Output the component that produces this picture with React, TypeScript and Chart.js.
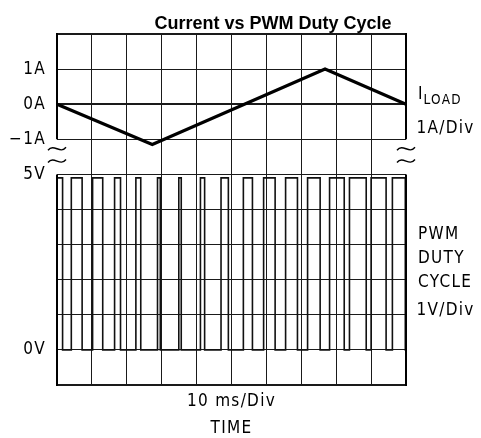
import React, { useEffect, useRef } from "react";
import { Chart, registerables } from "chart.js";

Chart.register(...registerables);

// ---------- data ----------
const CHART_TITLE = "Current vs PWM Duty Cycle";

// time axis in divisions (10 ms/Div)
const TIME_MIN = 0;
const TIME_MAX = 10;

// load current triangle (time in div, current in A)
const loadTime = [0, 2.73, 7.68, 10];
const loadAmps = [0, -1.15, 1.0, 0];

// PWM pulses: rising / falling edge times (div)
const pwmRise = [0, 0.41, 1.02, 1.65, 2.26, 2.88, 3.49, 4.11, 4.7, 5.34, 5.92, 6.55, 7.18, 7.81, 8.38, 9.0, 9.61];
const pwmFall = [0.16, 0.72, 1.31, 1.82, 2.4, 2.96, 3.56, 4.23, 4.91, 5.6, 6.25, 6.89, 7.54, 8.23, 8.86, 9.43, 9.98];
const pwmHighVolts = 4.9;
const pwmLowVolts = 0;

// axis ranges (1 V/Div, 1 A/Div on the same 10-div screen)
const VOLT_MIN = -1;
const VOLT_MAX = 9;
const AMP_MIN = -8;
const AMP_MAX = 2;

// tick labels
const voltTickValues = [5, 0];
const voltTickLabels = ["5V", "0V"];
const ampTickValues = [1, 0, -1];
const ampTickLabels = ["1A", "0A", "\u22121A"];

// axis break in the frame between -1A and 5V (volt units)
const frameBreak = [5, 6];

// text blocks
const xTitleLines = ["10 ms/Div", "TIME"];
const loadName = "I";
const loadSub = "LOAD";
const loadScale = "1A/Div";
const pwmNameLines = ["PWM", "DUTY", "CYCLE"];
const pwmScale = "1V/Div";

const LABEL_FONT = '"DejaVu Sans Condensed", "DejaVu Sans", sans-serif';
const SPACING = "1.3px";

function buildPwm() {
  const pts: { x: number; y: number }[] = [];
  for (let i = 0; i < pwmRise.length; i++) {
    pts.push({ x: pwmRise[i], y: pwmLowVolts });
    pts.push({ x: pwmRise[i], y: pwmHighVolts });
    pts.push({ x: pwmFall[i], y: pwmHighVolts });
    pts.push({ x: pwmFall[i], y: pwmLowVolts });
  }
  pts.push({ x: TIME_MAX, y: pwmLowVolts });
  return pts;
}

const decorPlugin = {
  id: "decor",
  beforeDraw(chart: any) {
    (chart.ctx as any).letterSpacing = SPACING;
  },
  afterDraw(chart: any) {
    const { ctx, chartArea: ca, scales } = chart;
    const yv = scales.v;
    const yBreakTop = yv.getPixelForValue(frameBreak[1]);
    const yBreakBot = yv.getPixelForValue(frameBreak[0]);
    ctx.save();
    ctx.strokeStyle = "#000";
    ctx.lineCap = "butt";
    for (const x of [ca.left, ca.right]) {
      ctx.lineWidth = 2;
      ctx.beginPath();
      ctx.moveTo(x, ca.top - 1);
      ctx.lineTo(x, yBreakTop);
      ctx.moveTo(x, yBreakBot);
      ctx.lineTo(x, ca.bottom + 1);
      ctx.stroke();
      ctx.lineWidth = 1.4;
      for (const f of [0.27, 0.62]) {
        const yc = yBreakTop + f * (yBreakBot - yBreakTop);
        ctx.beginPath();
        ctx.moveTo(x - 9, yc + 1.5);
        ctx.bezierCurveTo(x - 3, yc - 6, x + 3, yc + 6, x + 9, yc - 1.5);
        ctx.stroke();
      }
    }

    // title
    (ctx as any).letterSpacing = "0px";
    ctx.fillStyle = "#000";
    ctx.font = 'bold 18px "Liberation Sans", Arial, sans-serif';
    ctx.textAlign = "center";
    ctx.textBaseline = "alphabetic";
    ctx.fillText(CHART_TITLE, ca.left + 216, 28.5);

    // right-hand labels
    (ctx as any).letterSpacing = SPACING;
    ctx.textAlign = "left";
    const rx = ca.right;
    ctx.font = "17px " + LABEL_FONT;
    ctx.fillText(loadName, rx + 12, 98.5);
    ctx.font = "13.5px " + LABEL_FONT;
    ctx.fillText(loadSub, rx + 17.5, 104);
    ctx.font = "17px " + LABEL_FONT;
    ctx.fillText(loadScale, rx + 10.5, 132.5);
    const pwmY = [238.5, 263, 287];
    pwmNameLines.forEach((t, i) => ctx.fillText(t, rx + 12, pwmY[i]));
    ctx.fillText(pwmScale, rx + 10.5, 315);
    ctx.restore();
  },
};

export default function App() {
  const ref = useRef<HTMLCanvasElement | null>(null);

  useEffect(() => {
    if (!ref.current) return;
    const loadData = loadTime.map((t, i) => ({ x: t, y: loadAmps[i] }));
    const chart = new Chart(ref.current, {
      type: "line",
      data: {
        datasets: [
          {
            label: "PWM duty cycle",
            data: buildPwm(),
            yAxisID: "v",
            borderColor: "#111",
            borderWidth: 1.6,
            pointRadius: 0,
            tension: 0,
            fill: false,
            borderJoinStyle: "miter",
          },
          {
            label: "I LOAD",
            data: loadData,
            yAxisID: "i",
            borderColor: "#000",
            borderWidth: 3.2,
            pointRadius: 0,
            tension: 0,
            fill: false,
            borderJoinStyle: "miter",
          },
        ],
      },
      options: {
        animation: false,
        responsive: true,
        maintainAspectRatio: false,
        layout: { padding: { top: 34, right: 75, bottom: 0, left: 0 } },
        plugins: {
          legend: { display: false },
          tooltip: { enabled: false },
          title: { display: false },
        },
        scales: {
          x: {
            type: "linear",
            min: TIME_MIN,
            max: TIME_MAX,
            ticks: { stepSize: 1, display: false },
            grid: {
              drawTicks: false,
              lineWidth: 1,
              color: (c: any) =>
                c.tick && (c.tick.value === TIME_MIN || c.tick.value === TIME_MAX)
                  ? "rgba(0,0,0,0)"
                  : "#1a1a1a",
            },
            border: { display: false },
            title: {
              display: true,
              text: xTitleLines,
              color: "#000",
              font: { family: LABEL_FONT, size: 17, lineHeight: 1.58 },
              padding: { top: 0, bottom: -4 },
            },
            afterFit: (s: any) => {
              s.height = 53;
            },
          },
          v: {
            type: "linear",
            position: "left",
            min: VOLT_MIN,
            max: VOLT_MAX,
            ticks: {
              stepSize: 1,
              autoSkip: false,
              padding: 11,
              color: "#000",
              font: { family: LABEL_FONT, size: 17 },
              callback: (value: any) => {
                const v = Math.round(Number(value));
                const vi = voltTickValues.indexOf(v);
                if (vi >= 0) return voltTickLabels[vi];
                const a = v + (AMP_MIN - VOLT_MIN);
                const ai = ampTickValues.indexOf(a);
                if (ai >= 0) return ampTickLabels[ai];
                return "";
              },
            },
            grid: {
              drawTicks: false,
              color: "#1a1a1a",
              lineWidth: (c: any) => {
                const v = c.tick ? c.tick.value : 0;
                if (v === VOLT_MIN || v === VOLT_MAX) return 2;
                if (v + (AMP_MIN - VOLT_MIN) === 0) return 2;
                return 1;
              },
            },
            border: { display: false },
            afterFit: (s: any) => {
              s.width = 57;
            },
          },
          i: {
            type: "linear",
            display: false,
            min: AMP_MIN,
            max: AMP_MAX,
          },
        },
      },
      plugins: [decorPlugin],
    });
    return () => chart.destroy();
  }, []);

  return (
    <div style={{ position: "fixed", left: 0, top: 0, width: "481px", height: "438px", background: "#fff" }}>
      <canvas ref={ref} />
    </div>
  );
}
